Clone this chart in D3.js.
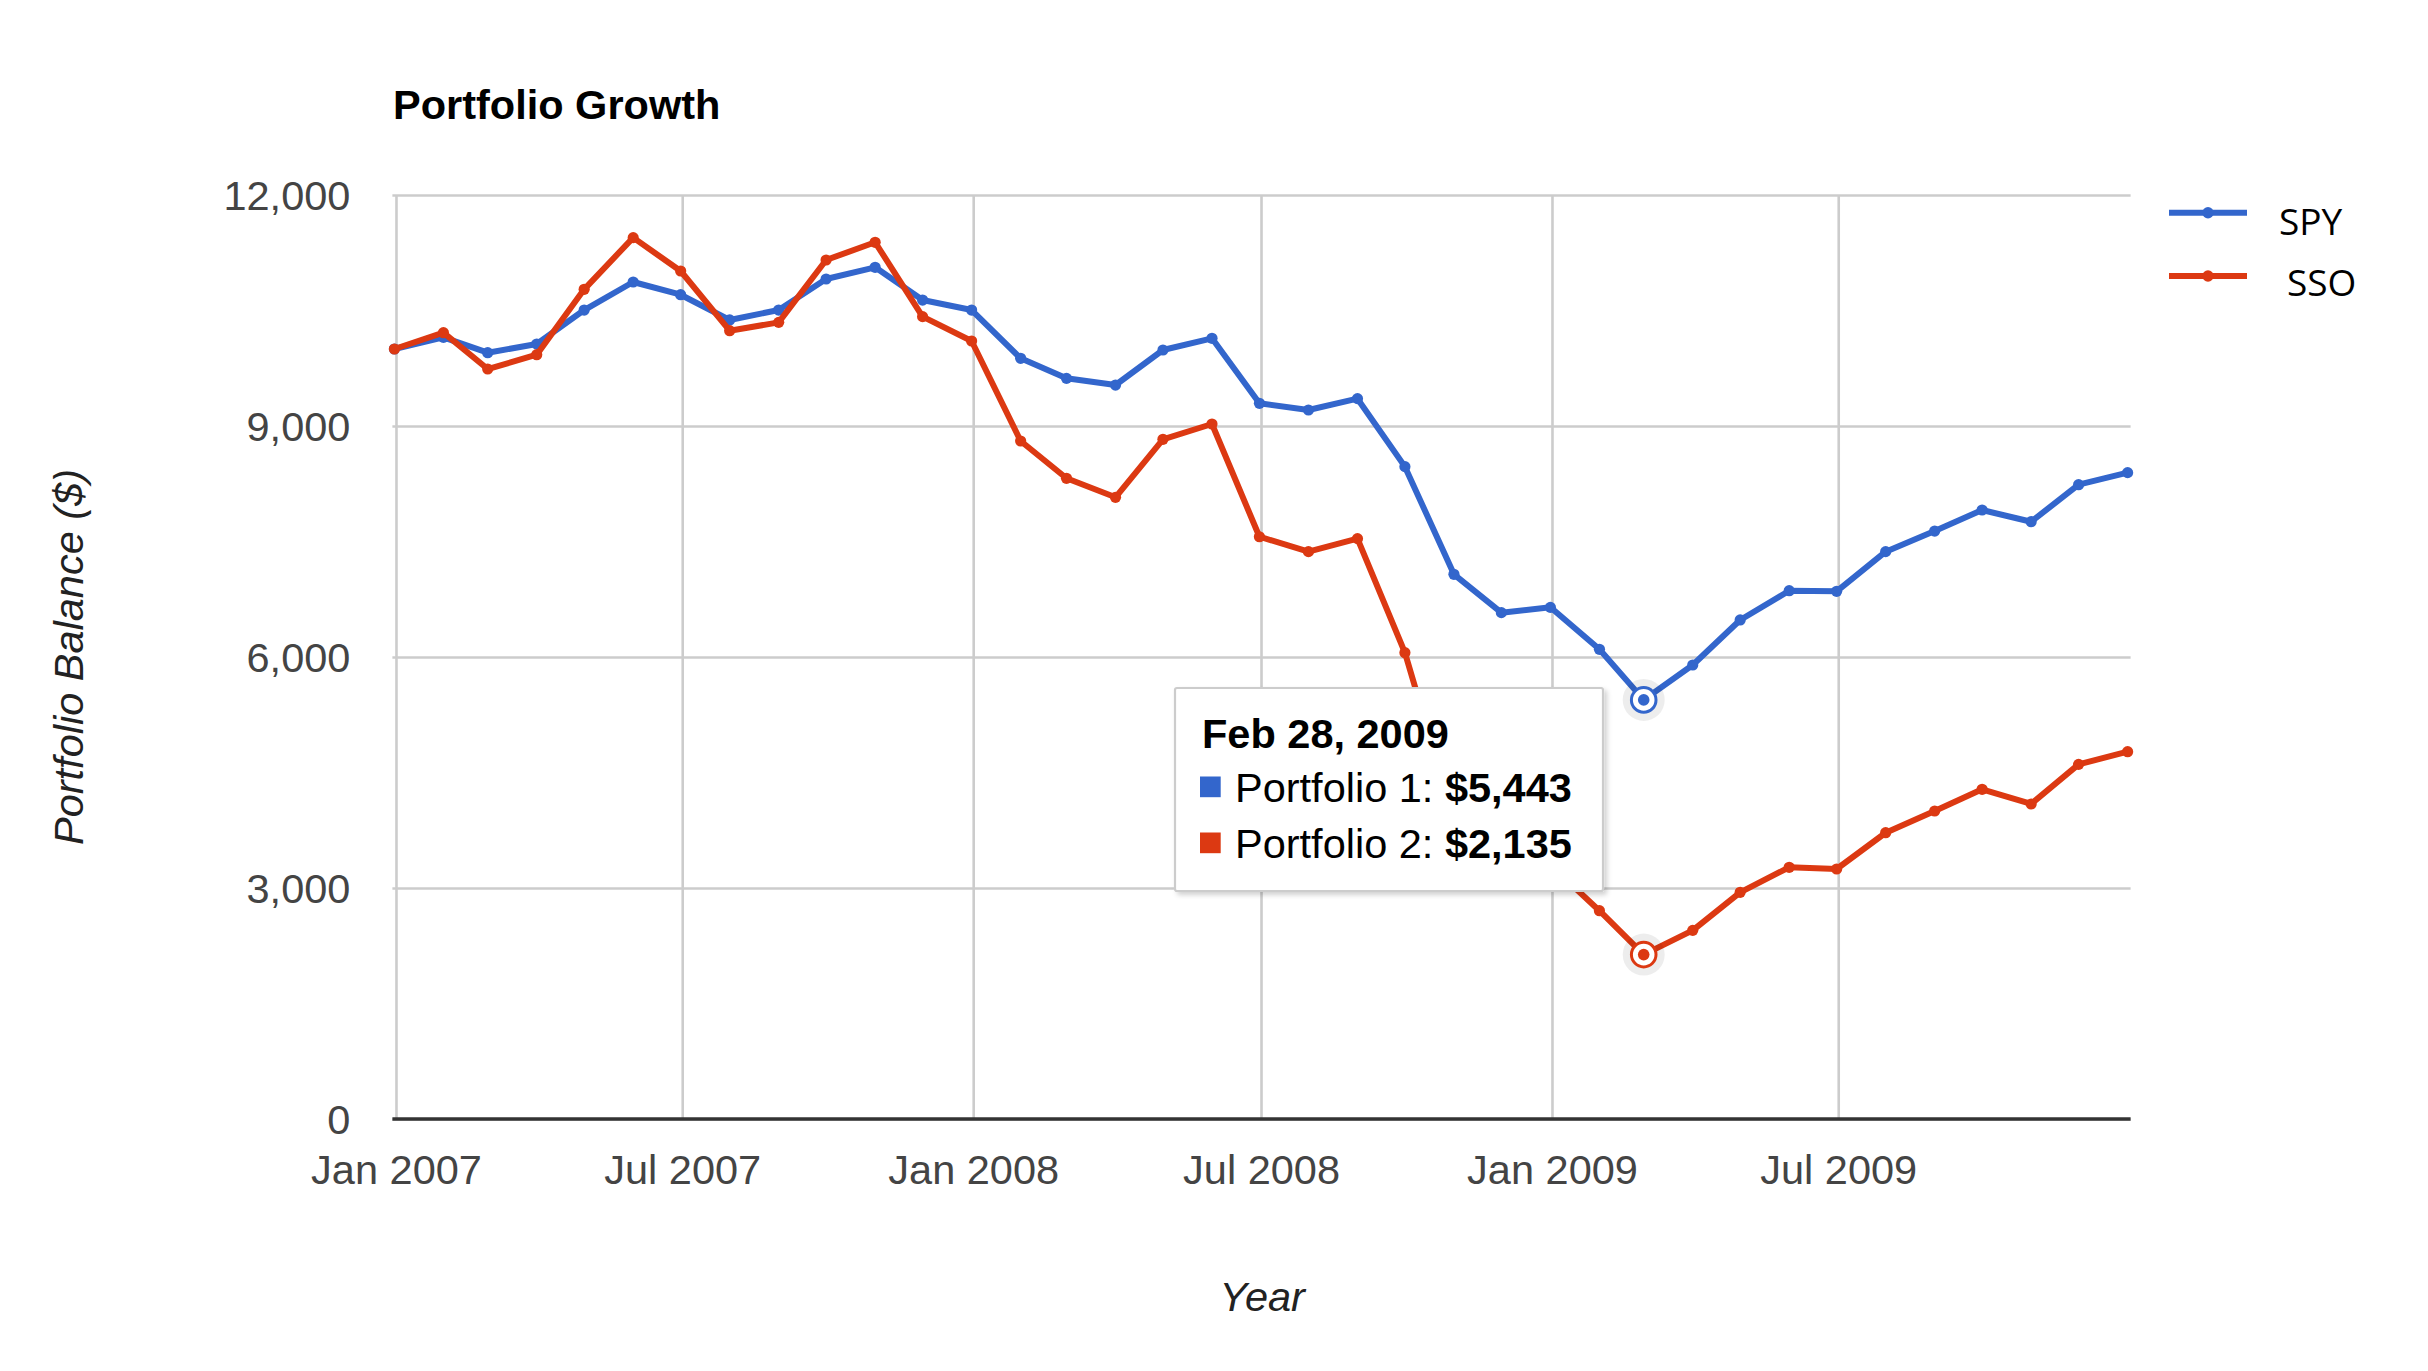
<!DOCTYPE html>
<html>
<head>
<meta charset="utf-8">
<script src="https://cdn.jsdelivr.net/npm/d3@7"></script>
<style>
  body { margin: 0; background: #fff; }
  svg { display: block; font-family: Arial, "Liberation Sans", sans-serif; }
</style>
</head>
<body>
<div id="chart"></div>
<script>
const width = 2428;
const height = 1371;
const margin = ({top: 195, right: 298, bottom: 252, left: 394.4})

// month-end dates of the balances
const dates = ["2006-12-31", "2007-01-31", "2007-02-28", "2007-03-31", "2007-04-30", "2007-05-31",
  "2007-06-30", "2007-07-31", "2007-08-31", "2007-09-30", "2007-10-31", "2007-11-30",
  "2007-12-31", "2008-01-31", "2008-02-29", "2008-03-31", "2008-04-30", "2008-05-31",
  "2008-06-30", "2008-07-31", "2008-08-31", "2008-09-30", "2008-10-31", "2008-11-30",
  "2008-12-31", "2009-01-31", "2009-02-28", "2009-03-31", "2009-04-30", "2009-05-31",
  "2009-06-30", "2009-07-31", "2009-08-31", "2009-09-30", "2009-10-31", "2009-11-30",
  "2009-12-31"];

const spy = [10000, 10152, 9952, 10065, 10506, 10870, 10705, 10377, 10506, 10909, 11061, 10636,
  10506, 9879, 9619, 9532, 9987, 10139, 9295, 9208, 9355, 8472, 7074, 6576,
  6645, 6100, 5443, 5896, 6481, 6861, 6853, 7368, 7636, 7909, 7757, 8238, 8394];

const sso = [10000, 10212, 9740, 9926, 10775, 11446, 11013, 10238, 10346, 11156, 11386, 10420,
  10104, 8805, 8321, 8074, 8827, 9026, 7562, 7368, 7537, 6056, 3900, 3320,
  3300, 2705, 2135, 2450, 2944, 3269, 3247, 3718, 4000, 4282, 4091, 4606, 4770];

const seriesNames = ["SPY", "SSO"];
const tooltipNames = ["Portfolio 1", "Portfolio 2"];
const colors = ["#3366cc", "#dc3912"];

const yTicks = [0, 3000, 6000, 9000, 12000];
const xTicks = ["2007-01-01", "2007-07-01", "2008-01-01", "2008-07-01", "2009-01-01", "2009-07-01"];
const xDomain = ["2006-12-31", "2010-01-01"];
const yDomain = [0, 12000];

const focusIndex = 26;
const title = "Portfolio Growth";
const xTitle = "Year";
const yTitle = "Portfolio Balance ($)";

const parse = d3.utcParse("%Y-%m-%d");
const fs = 41.5;

const svg = d3.select("#chart").append("svg")
  .attr("width", width)
  .attr("height", height)
  .attr("viewBox", `0 0 ${width} ${height}`);

svg.append("rect").attr("width", width).attr("height", height).attr("fill", "#fff");

const x = d3.scaleUtc()
  .domain(xDomain.map(parse))
  .range([margin.left, width - margin.right - 0.8]);

const y = d3.scaleLinear()
  .domain(yDomain)
  .range([height - margin.bottom, margin.top]);

// horizontal gridlines + y labels
const yAxis = g => g
  .attr("transform", `translate(${margin.left},0)`)
  .call(d3.axisLeft(y).tickValues(yTicks).tickFormat(d3.format(",")).tickSize(0).tickPadding(44))
  .call(g => g.select(".domain").remove())
  .call(g => g.selectAll(".tick text")
    .attr("font-size", fs).attr("font-family", "Arial, 'Liberation Sans', sans-serif")
    .attr("fill", "#444").attr("dy", "0.35em"))
  .call(g => g.selectAll(".tick").append("line")
    .attr("x1", -2).attr("x2", width - margin.right - margin.left + 0.6)
    .attr("stroke", "#cccccc").attr("stroke-width", 2.6));

// vertical gridlines + x labels
const xAxis = g => g
  .attr("transform", `translate(0,${height - margin.bottom})`)
  .call(d3.axisBottom(x).tickValues(xTicks.map(parse)).tickFormat(d3.utcFormat("%b %Y")).tickSize(0).tickPadding(36))
  .call(g => g.select(".domain").remove())
  .call(g => g.selectAll(".tick text")
    .attr("font-size", fs).attr("font-family", "Arial, 'Liberation Sans', sans-serif")
    .attr("fill", "#444"))
  .call(g => g.selectAll(".tick").append("line")
    .attr("y1", 0).attr("y2", -(height - margin.bottom - margin.top))
    .attr("stroke", "#cccccc").attr("stroke-width", 2.6));

svg.append("g").call(xAxis);
svg.append("g").call(yAxis);

// baseline at zero
svg.append("line")
  .attr("x1", margin.left - 2)
  .attr("x2", width - margin.right + 0.6)
  .attr("y1", y(0)).attr("y2", y(0))
  .attr("stroke", "#333").attr("stroke-width", 3.6);

const allSeries = [spy, sso];
const line = d3.line()
  .x((d, i) => x(parse(dates[i])))
  .y(d => y(d));

allSeries.forEach((s, k) => {
  svg.append("path")
    .datum(s)
    .attr("fill", "none")
    .attr("stroke", colors[k])
    .attr("stroke-width", 6)
    .attr("stroke-linejoin", "round")
    .attr("d", line);

  svg.append("g").selectAll("circle")
    .data(s)
    .join("circle")
    .attr("cx", (d, i) => x(parse(dates[i])))
    .attr("cy", d => y(d))
    .attr("r", 5.6)
    .attr("fill", colors[k]);
});

// focused points
allSeries.forEach((s, k) => {
  const cx = x(parse(dates[focusIndex]));
  const cy = y(s[focusIndex]);
  svg.append("circle").attr("cx", cx).attr("cy", cy).attr("r", 21)
    .attr("fill", "#000").attr("fill-opacity", 0.07);
  svg.append("circle").attr("cx", cx).attr("cy", cy).attr("r", 12.3)
    .attr("fill", "#fff").attr("stroke", colors[k]).attr("stroke-width", 3);
  svg.append("circle").attr("cx", cx).attr("cy", cy).attr("r", 5.8)
    .attr("fill", colors[k]);
});

// titles
svg.append("text")
  .attr("x", 393).attr("y", 119)
  .attr("font-size", fs).attr("font-weight", "bold").attr("fill", "#000")
  .text(title);

svg.append("text")
  .attr("x", (margin.left + width - margin.right) / 2).attr("y", 1311)
  .attr("text-anchor", "middle")
  .attr("font-size", fs).attr("font-style", "italic").attr("fill", "#222")
  .text(xTitle);

svg.append("text")
  .attr("transform", `translate(83,${(margin.top + height - margin.bottom) / 2}) rotate(-90)`)
  .attr("text-anchor", "middle")
  .attr("font-size", fs).attr("font-style", "italic").attr("fill", "#222")
  .text(yTitle);

// legend
const legendY = [212.7, 276];
const legendTextX = [2279, 2287];
const legendTextY = [235, 296];
seriesNames.forEach((name, k) => {
  const g = svg.append("g");
  g.append("line")
    .attr("x1", 2169).attr("x2", 2247)
    .attr("y1", legendY[k]).attr("y2", legendY[k])
    .attr("stroke", colors[k]).attr("stroke-width", 6);
  g.append("circle").attr("cx", 2208).attr("cy", legendY[k]).attr("r", 5.7).attr("fill", colors[k]);
  g.append("text")
    .attr("x", legendTextX[k]).attr("y", legendTextY[k])
    .attr("font-family", "'Open Sans', 'Noto Sans', sans-serif")
    .attr("font-size", 37).attr("fill", "#000")
    .text(name);
});

// tooltip
const defs = svg.append("defs");
const filter = defs.append("filter").attr("id", "shadow")
  .attr("x", "-10%").attr("y", "-10%").attr("width", "130%").attr("height", "130%");
filter.append("feDropShadow")
  .attr("dx", 3).attr("dy", 3).attr("stdDeviation", 2.5)
  .attr("flood-color", "#000").attr("flood-opacity", 0.18);

const tip = svg.append("g");
tip.append("rect")
  .attr("x", 1175).attr("y", 688)
  .attr("width", 428).attr("height", 203)
  .attr("rx", 2)
  .attr("fill", "#fff").attr("stroke", "#cccccc").attr("stroke-width", 2.2)
  .attr("filter", "url(#shadow)");

tip.append("text")
  .attr("x", 1202).attr("y", 747.5)
  .attr("font-size", fs).attr("font-weight", "bold").attr("fill", "#000")
  .text(d3.utcFormat("%b %-d, %Y")(parse(dates[focusIndex])));

const rowY = [802, 858];
allSeries.forEach((s, k) => {
  tip.append("rect")
    .attr("x", 1200).attr("y", rowY[k] - 25.5)
    .attr("width", 20.7).attr("height", 20.7)
    .attr("fill", colors[k]);
  const t = tip.append("text")
    .attr("x", 1235).attr("y", rowY[k])
    .attr("font-size", fs).attr("fill", "#000");
  t.append("tspan").text(tooltipNames[k] + ": ");
  t.append("tspan").attr("font-weight", "bold").text("$" + d3.format(",")(s[focusIndex]));
});
</script>
</body>
</html>
